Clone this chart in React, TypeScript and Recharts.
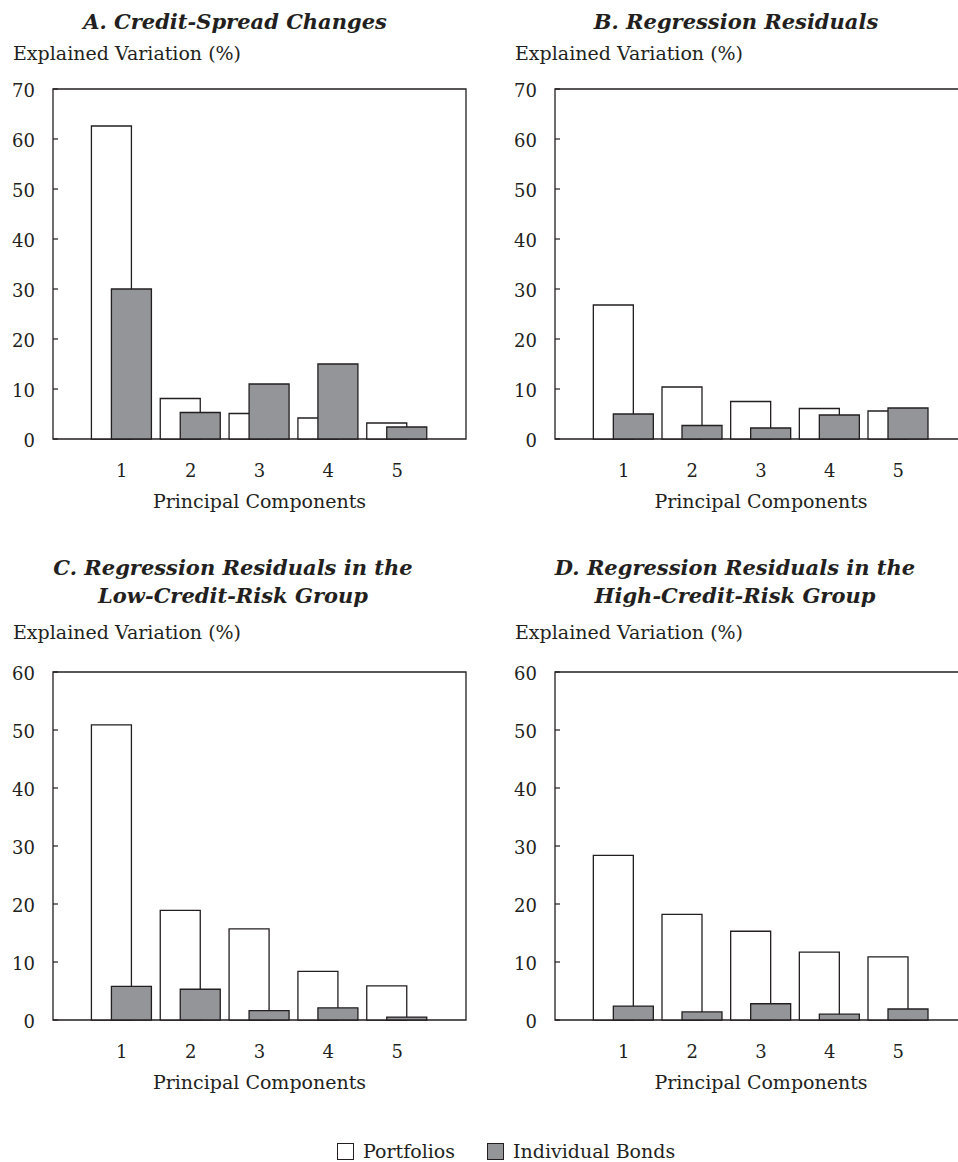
import React from "react";
import { BarChart, Bar, XAxis, YAxis, ReferenceArea } from "recharts";

const components = [1, 2, 3, 4, 5];

const panelAPortfolios = [62.6, 8.1, 5.1, 4.2, 3.2];
const panelABonds = [30.0, 5.3, 11.0, 15.0, 2.4];
const panelBPortfolios = [26.8, 10.4, 7.5, 6.1, 5.6];
const panelBBonds = [5.0, 2.7, 2.2, 4.8, 6.2];
const panelCPortfolios = [50.9, 18.9, 15.7, 8.4, 5.9];
const panelCBonds = [5.8, 5.3, 1.6, 2.1, 0.5];
const panelDPortfolios = [28.4, 18.2, 15.3, 11.7, 10.9];
const panelDBonds = [2.4, 1.4, 2.8, 1.0, 1.9];

const yTicksTop = [0, 10, 20, 30, 40, 50, 60, 70];
const yTicksBottom = [0, 10, 20, 30, 40, 50, 60];

const titleA = ["A. Credit-Spread Changes"];
const titleB = ["B. Regression Residuals"];
const titleC = ["C. Regression Residuals in the", "Low-Credit-Risk Group"];
const titleD = ["D. Regression Residuals in the", "High-Credit-Risk Group"];

const yLabel = "Explained Variation (%)";
const xLabel = "Principal Components";
const seriesNames = ["Portfolios", "Individual Bonds"];

const INK = "#231f20";
const GRAY = "#939598";
const FONT = "'DejaVu Serif', serif";

function build(p: number[], b: number[]) {
  return components.map((c, i) => ({ pc: c, portfolios: p[i], bonds: b[i] }));
}

type PanelProps = {
  plotLeft: number;
  plotTop: number;
  plotW: number;
  plotH: number;
  yMax: number;
  yTicks: number[];
  portfolios: number[];
  bonds: number[];
  title: string[];
  titleCenter: number;
  titleY: number;
  evLeft: number;
  evY: number;
};

function Panel(props: PanelProps) {
  const {
    plotLeft, plotTop, plotW, plotH, yMax, yTicks, portfolios, bonds,
    title, titleCenter, titleY, evLeft, evY,
  } = props;
  const mLeft = 13;
  const yAxisW = 40;
  const mTop = 30;
  const xAxisH = 50;
  const chartLeft = plotLeft - mLeft - yAxisW;
  const chartTop = plotTop - mTop;
  const width = mLeft + yAxisW + plotW + 14;
  const height = mTop + plotH + xAxisH;
  const data = build(portfolios, bonds);
  return (
    <>
      {title.map((t, i) => (
        <div
          key={i}
          style={{
            position: "absolute",
            left: titleCenter - 300,
            width: 600,
            top: titleY + i * 28 - 14,
            height: 28,
            lineHeight: "28px",
            textAlign: "center",
            fontFamily: FONT,
            fontWeight: "bold",
            fontStyle: "italic",
            fontSize: 21,
            color: INK,
            whiteSpace: "nowrap",
          }}
        >
          {t}
        </div>
      ))}
      <div
        style={{
          position: "absolute",
          left: evLeft,
          top: evY - 12,
          height: 24,
          lineHeight: "24px",
          fontFamily: FONT,
          fontSize: 19,
          color: INK,
          whiteSpace: "nowrap",
        }}
      >
        {yLabel}
      </div>
      <div
        style={{
          position: "absolute",
          left: plotLeft + plotW / 2 - 200,
          width: 400,
          top: plotTop + plotH + 62 - 12,
          height: 24,
          lineHeight: "24px",
          textAlign: "center",
          fontFamily: FONT,
          fontSize: 19,
          color: INK,
          whiteSpace: "nowrap",
        }}
      >
        {xLabel}
      </div>
      <div style={{ position: "absolute", left: chartLeft, top: chartTop }}>
        <BarChart
          width={width}
          height={height}
          data={data}
          margin={{ top: mTop, left: mLeft, right: 14, bottom: 0 }}
          barGap={-20}
          barSize={40}
        >
          <XAxis
            dataKey="pc"
            type="number"
            domain={[0, 6]}
            ticks={components}
            axisLine={false}
            tickLine={false}
            tickSize={0}
            tickMargin={25}
            height={xAxisH}
            tick={{ fill: INK, fontSize: 18, fontFamily: FONT }}
          />
          <YAxis
            type="number"
            domain={[0, yMax]}
            ticks={yTicks}
            width={yAxisW}
            axisLine={false}
            tickSize={-5}
            tickMargin={23}
            tickLine={{ stroke: INK, strokeWidth: 1.2 }}
            tick={{ fill: INK, fontSize: 18, fontFamily: FONT, dy: 2 }}
            interval={0}
          />
          <ReferenceArea
            x1={0}
            x2={6}
            y1={0}
            y2={yMax}
            fill="none"
            fillOpacity={0}
            stroke={INK}
            strokeWidth={1.3}
            ifOverflow="visible"
          />
          <Bar
            dataKey="portfolios"
            name={seriesNames[0]}
            fill="#ffffff"
            stroke={INK}
            strokeWidth={1.3}
            isAnimationActive={false}
          />
          <Bar
            dataKey="bonds"
            name={seriesNames[1]}
            fill={GRAY}
            stroke={INK}
            strokeWidth={1.3}
            isAnimationActive={false}
          />
        </BarChart>
      </div>
    </>
  );
}

function Legend() {
  const sq = (fill: string) => ({
    position: "absolute" as const,
    width: 17,
    height: 17,
    background: fill,
    border: `1.3px solid ${INK}`,
    boxSizing: "border-box" as const,
  });
  const txt = {
    position: "absolute" as const,
    fontFamily: FONT,
    fontSize: 19,
    color: INK,
    lineHeight: "24px",
    height: 24,
    whiteSpace: "nowrap" as const,
  };
  return (
    <>
      <div style={{ ...sq("#ffffff"), left: 337, top: 1143 }} />
      <div style={{ ...txt, left: 363, top: 1139 }}>{seriesNames[0]}</div>
      <div style={{ ...sq(GRAY), left: 487, top: 1143 }} />
      <div style={{ ...txt, left: 513, top: 1139 }}>{seriesNames[1]}</div>
    </>
  );
}

export default function App() {
  return (
    <div
      style={{
        position: "fixed",
        left: 0,
        top: 0,
        width: 958,
        height: 1162,
        overflow: "hidden",
        background: "#ffffff",
      }}
    >
      <Panel
        plotLeft={53} plotTop={89} plotW={413} plotH={350}
        yMax={70} yTicks={yTicksTop}
        portfolios={panelAPortfolios} bonds={panelABonds}
        title={titleA} titleCenter={235} titleY={22}
        evLeft={13} evY={53}
      />
      <Panel
        plotLeft={555} plotTop={89} plotW={412} plotH={350}
        yMax={70} yTicks={yTicksTop}
        portfolios={panelBPortfolios} bonds={panelBBonds}
        title={titleB} titleCenter={736} titleY={22}
        evLeft={515} evY={53}
      />
      <Panel
        plotLeft={53} plotTop={672} plotW={413} plotH={348}
        yMax={60} yTicks={yTicksBottom}
        portfolios={panelCPortfolios} bonds={panelCBonds}
        title={titleC} titleCenter={233} titleY={568}
        evLeft={13} evY={632}
      />
      <Panel
        plotLeft={555} plotTop={672} plotW={412} plotH={348}
        yMax={60} yTicks={yTicksBottom}
        portfolios={panelDPortfolios} bonds={panelDBonds}
        title={titleD} titleCenter={735} titleY={568}
        evLeft={515} evY={632}
      />
      <Legend />
    </div>
  );
}
